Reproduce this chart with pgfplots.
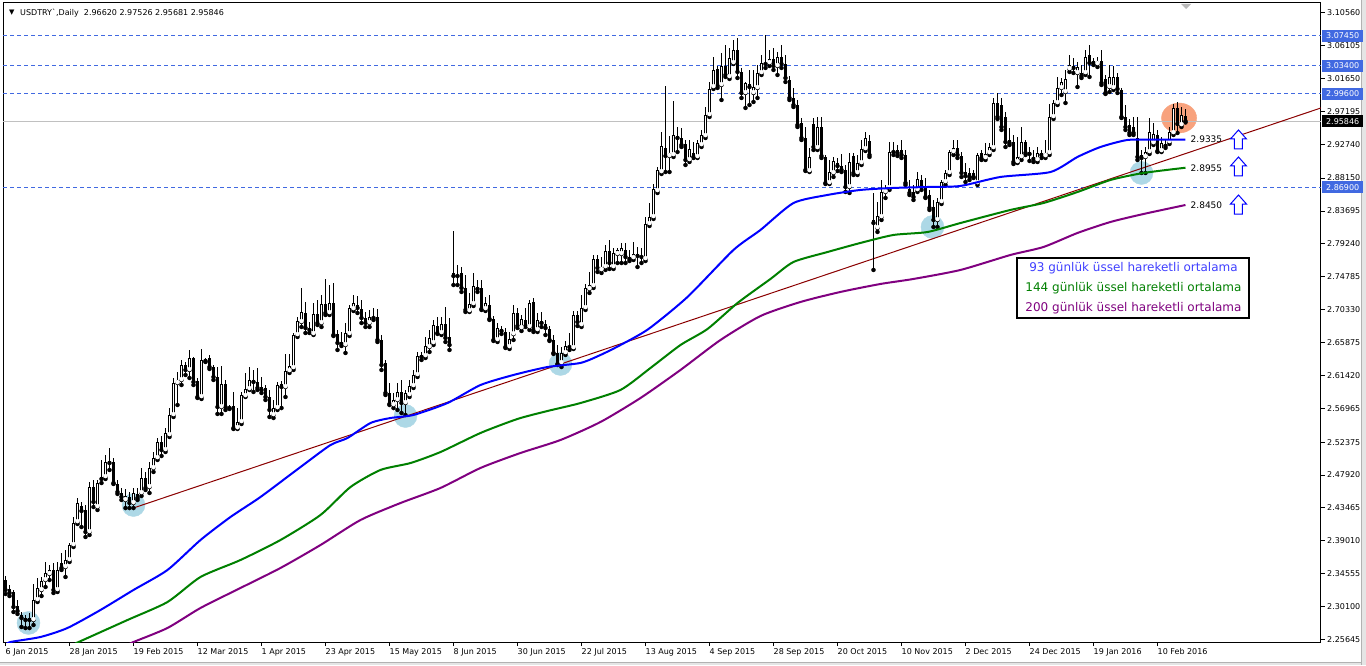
\documentclass[border=0pt]{standalone}
\usepackage{pgfplots}
\pgfplotsset{compat=1.18}
\usepackage{pgfplotstable}
\usepackage{fontspec}
\setmainfont{DejaVu Sans}
\definecolor{royal}{RGB}{65,105,225}
\definecolor{silverc}{RGB}{192,192,192}
\definecolor{trend}{RGB}{139,0,0}
\definecolor{emablue}{RGB}{0,0,255}
\definecolor{emagreen}{RGB}{0,128,0}
\definecolor{emapurple}{RGB}{128,0,128}
\definecolor{lblue}{RGB}{173,216,230}
\definecolor{salmonc}{RGB}{248,162,125}

\pgfplotstableread{
i o h l c
0 2.3369 2.3423 2.3180 2.3234
1 2.3247 2.3301 2.3152 2.3193
2 2.3207 2.3234 2.2936 2.3003
3 2.3016 2.3098 2.2909 2.2949
4 2.2895 2.2936 2.2732 2.2854
5 2.2827 2.2895 2.2718 2.2854
6 2.2854 2.2922 2.2718 2.2827
7 2.2827 2.3315 2.2759 2.3098
8 2.3098 2.3396 2.3071 2.3260
9 2.3234 2.3410 2.3152 2.3355
10 2.3369 2.3613 2.3274 2.3464
11 2.3451 2.3572 2.3369 2.3505
12 2.3505 2.3599 2.3193 2.3234
13 2.3234 2.3613 2.3207 2.3505
14 2.3599 2.3735 2.3505 2.3531
15 2.3545 2.3776 2.3410 2.3640
16 2.3640 2.3870 2.3613 2.3843
17 2.3843 2.4223 2.3816 2.4141
18 2.4155 2.4480 2.4128 2.4412
19 2.4371 2.4426 2.4087 2.4304
20 2.4318 2.4385 2.3952 2.4020
21 2.4020 2.4697 2.3979 2.4629
22 2.4629 2.4724 2.4358 2.4426
23 2.4358 2.4724 2.4318 2.4683
24 2.4765 2.4995 2.4683 2.4738
25 2.4765 2.5063 2.4738 2.4968
26 2.4954 2.5157 2.4860 2.4981
27 2.4968 2.5022 2.4670 2.4683
28 2.4670 2.4724 2.4535 2.4562
29 2.4548 2.4615 2.4453 2.4494
30 2.4453 2.4602 2.4344 2.4507
31 2.4494 2.4562 2.4344 2.4412
32 2.4412 2.4615 2.4344 2.4548
33 2.4535 2.4615 2.4453 2.4480
34 2.4548 2.4886 2.4507 2.4751
35 2.4751 2.4833 2.4589 2.4615
36 2.4629 2.4968 2.4548 2.4886
37 2.4886 2.5104 2.4833 2.5022
38 2.5022 2.5293 2.4995 2.5239
39 2.5239 2.5320 2.5049 2.5131
40 2.5131 2.5428 2.5104 2.5361
41 2.5334 2.5699 2.5307 2.5605
42 2.5605 2.6106 2.5578 2.6038
43 2.6038 2.6188 2.5740 2.6079
44 2.6079 2.6350 2.6011 2.6282
45 2.6282 2.6323 2.6147 2.6215
46 2.6215 2.6486 2.6106 2.6377
47 2.6377 2.6391 2.6011 2.6052
48 2.6066 2.6106 2.5835 2.5849
49 2.5849 2.6499 2.5822 2.6350
50 2.6364 2.6377 2.6323 2.6337
51 2.6377 2.6418 2.6228 2.6255
52 2.6255 2.6282 2.6079 2.6120
53 2.6120 2.6255 2.5619 2.5713
54 2.5713 2.6269 2.5619 2.6025
55 2.6025 2.6079 2.5673 2.5713
56 2.5713 2.5740 2.5686 2.5699
57 2.5727 2.5917 2.5415 2.5428
58 2.5428 2.5699 2.5415 2.5510
59 2.5510 2.5917 2.5483 2.5876
60 2.5862 2.6174 2.5849 2.5957
61 2.5957 2.6255 2.5944 2.6079
62 2.6079 2.6215 2.5917 2.6052
63 2.6052 2.6242 2.5944 2.5971
64 2.5984 2.6120 2.5903 2.5944
65 2.5971 2.6011 2.5808 2.5849
66 2.5849 2.5944 2.5578 2.5673
67 2.5605 2.5808 2.5564 2.5699
68 2.5699 2.6052 2.5673 2.6011
69 2.6025 2.6066 2.5699 2.5984
70 2.5984 2.6432 2.5849 2.6201
71 2.6201 2.6432 2.6174 2.6269
72 2.6242 2.6716 2.6215 2.6689
73 2.6689 2.6933 2.6662 2.6878
74 2.6865 2.7326 2.6797 2.7001
75 2.6987 2.7136 2.6716 2.6784
76 2.6784 2.6865 2.6716 2.6757
77 2.6703 2.7122 2.6689 2.6974
78 2.6974 2.7163 2.6824 2.6851
79 2.6851 2.7231 2.6797 2.7109
80 2.7109 2.7448 2.6960 2.6987
81 2.6987 2.7366 2.6960 2.7122
82 2.7122 2.7393 2.6675 2.6689
83 2.6703 2.6757 2.6486 2.6581
84 2.6594 2.6730 2.6540 2.6567
85 2.6553 2.6851 2.6445 2.6716
86 2.6703 2.7095 2.6675 2.7055
87 2.7041 2.7231 2.7014 2.7122
88 2.7095 2.7217 2.6987 2.7055
89 2.7041 2.7163 2.6851 2.6919
90 2.6919 2.7001 2.6797 2.6851
91 2.6851 2.7028 2.6797 2.6933
92 2.6919 2.7055 2.6892 2.6933
93 2.6933 2.7041 2.6594 2.6621
94 2.6621 2.6689 2.6215 2.6282
95 2.6309 2.6350 2.5876 2.5903
96 2.5903 2.6038 2.5740 2.5754
97 2.5740 2.5903 2.5699 2.5808
98 2.5808 2.6038 2.5673 2.5917
99 2.5917 2.6079 2.5632 2.5767
100 2.5767 2.5944 2.5605 2.5903
101 2.5876 2.6079 2.5849 2.5998
102 2.5998 2.6215 2.5971 2.6147
103 2.6147 2.6459 2.6120 2.6404
104 2.6391 2.6459 2.6350 2.6418
105 2.6404 2.6662 2.6377 2.6540
106 2.6526 2.6757 2.6459 2.6648
107 2.6581 2.6892 2.6553 2.6824
108 2.6811 2.6933 2.6703 2.6716
109 2.6716 2.6933 2.6689 2.6838
110 2.6838 2.7068 2.6594 2.6648
111 2.6662 2.6919 2.6486 2.6553
112 2.7529 2.8098 2.7366 2.7488
113 2.7488 2.7637 2.7366 2.7502
114 2.7529 2.7610 2.7272 2.7326
115 2.7326 2.7502 2.7001 2.7028
116 2.7014 2.7258 2.7001 2.7109
117 2.7109 2.7529 2.7082 2.7353
118 2.7339 2.7434 2.7272 2.7312
119 2.7326 2.7434 2.7028 2.7041
120 2.7041 2.7204 2.7014 2.7122
121 2.7095 2.7231 2.6892 2.6906
122 2.6906 2.6946 2.6608 2.6621
123 2.6621 2.6851 2.6594 2.6784
124 2.6770 2.6811 2.6703 2.6743
125 2.6730 2.6784 2.6513 2.6526
126 2.6526 2.6730 2.6499 2.6635
127 2.6700 2.7095 2.6621 2.6987
128 2.6987 2.7055 2.6784 2.6811
129 2.6784 2.6960 2.6743 2.6906
130 2.6892 2.7055 2.6797 2.6811
131 2.6797 2.7163 2.6757 2.7122
132 2.7136 2.7190 2.6730 2.6757
133 2.6757 2.6987 2.6730 2.6892
134 2.6851 2.7001 2.6797 2.6878
135 2.6838 2.6892 2.6689 2.6784
136 2.6770 2.6811 2.6608 2.6621
137 2.6621 2.6689 2.6432 2.6445
138 2.6445 2.6553 2.6282 2.6296
139 2.6309 2.6526 2.6255 2.6445
140 2.6445 2.6608 2.6418 2.6540
141 2.6526 2.6716 2.6486 2.6540
142 2.6513 2.7014 2.6499 2.6960
143 2.6960 2.7014 2.6811 2.6865
144 2.6824 2.7231 2.6797 2.7055
145 2.7055 2.7380 2.7028 2.7326
146 2.7312 2.7543 2.7258 2.7366
147 2.7353 2.7773 2.7326 2.7719
148 2.7719 2.7773 2.7543 2.7597
149 2.7570 2.7746 2.7529 2.7610
150 2.7610 2.7908 2.7570 2.7827
151 2.7827 2.7976 2.7583 2.7664
152 2.7610 2.7868 2.7583 2.7800
153 2.7787 2.7868 2.7664 2.7841
154 2.7787 2.7935 2.7664 2.7868
155 2.7841 2.7935 2.7664 2.7746
156 2.7746 2.7841 2.7691 2.7719
157 2.7732 2.7949 2.7705 2.7787
158 2.7787 2.7881 2.7610 2.7759
159 2.7759 2.7868 2.7664 2.7746
160 2.7719 2.8288 2.7691 2.8193
161 2.8193 2.8477 2.8166 2.8288
162 2.8288 2.8735 2.8261 2.8667
163 2.8640 2.8965 2.8613 2.8925
164 2.8897 2.9439 2.8870 2.9250
165 2.9223 3.0063 2.8897 2.9114
166 2.9114 2.9385 2.8897 2.9155
167 2.9128 2.9859 2.9101 2.9399
168 2.9385 2.9507 2.9168 2.9358
169 2.9358 2.9494 2.9236 2.9263
170 2.9277 2.9331 2.8992 2.9060
171 2.9060 2.9331 2.9033 2.9209
172 2.9155 2.9304 2.9087 2.9101
173 2.9101 2.9331 2.9087 2.9290
174 2.9263 2.9467 2.9236 2.9399
175 2.9385 2.9778 2.9358 2.9670
176 2.9670 3.0117 2.9643 3.0022
177 3.0049 3.0456 3.0022 3.0280
178 3.0293 3.0334 3.0036 3.0063
179 3.0076 3.0510 2.9873 3.0334
180 3.0334 3.0618 3.0185 3.0212
181 3.0185 3.0578 3.0158 3.0442
182 3.0374 3.0686 3.0361 3.0551
183 3.0551 3.0713 3.0171 3.0253
184 3.0253 3.0307 2.9900 2.9968
185 2.9968 3.0117 2.9765 3.0104
186 3.0090 3.0280 2.9805 3.0049
187 2.9968 3.0280 2.9846 3.0049
188 3.0036 3.0347 2.9900 3.0239
189 3.0239 3.0483 3.0212 3.0374
190 3.0361 3.0754 3.0307 3.0374
191 3.0374 3.0551 3.0334 3.0429
192 3.0429 3.0578 3.0280 3.0334
193 3.0334 3.0523 3.0212 3.0456
194 3.0456 3.0618 3.0307 3.0361
195 3.0361 3.0483 3.0117 3.0171
196 3.0144 3.0198 2.9873 2.9900
197 2.9900 3.0036 2.9778 2.9805
198 2.9805 2.9873 2.9507 2.9534
199 2.9561 2.9629 2.9331 2.9358
200 2.9358 2.9507 2.8911 2.8925
201 2.8911 2.9223 2.8897 2.9101
202 2.9548 2.9629 2.9196 2.9236
203 2.9223 2.9643 2.9196 2.9507
204 2.9507 2.9643 2.9087 2.9114
205 2.9101 2.9128 2.8735 2.8748
206 2.8748 2.9060 2.8735 2.8897
207 2.8884 2.9101 2.8830 2.9047
208 2.9019 2.9087 2.8911 2.8979
209 2.8979 2.9141 2.8897 2.8925
210 2.8925 2.8992 2.8627 2.8694
211 2.8694 2.9155 2.8613 2.9033
212 2.9114 2.9155 2.8857 2.8884
213 2.8884 2.9128 2.8857 2.9019
214 2.9019 2.9331 2.8992 2.9209
215 2.9209 2.9439 2.9182 2.9358
216 2.9318 2.9399 2.9101 2.9128
217 2.8247 2.8613 2.7570 2.8206
218 2.8139 2.8491 2.8085 2.8301
219 2.8288 2.8789 2.8247 2.8627
220 2.8627 2.8721 2.8545 2.8681
221 2.8681 2.9304 2.8654 2.9168
222 2.9182 2.9304 2.9128 2.9168
223 2.9196 2.9263 2.9114 2.9155
224 2.9196 2.9331 2.9087 2.9128
225 2.9128 2.9196 2.8721 2.8748
226 2.8667 2.8789 2.8586 2.8613
227 2.8627 2.8721 2.8518 2.8559
228 2.8654 2.8898 2.8627 2.8803
229 2.8789 2.8857 2.8654 2.8694
230 2.8708 2.8816 2.8545 2.8559
231 2.8586 2.8654 2.8383 2.8410
232 2.8423 2.8518 2.8152 2.8247
233 2.8247 2.8545 2.8152 2.8491
234 2.8491 2.8789 2.8464 2.8762
235 2.8762 2.8925 2.8721 2.8884
236 2.8884 2.9196 2.8857 2.9168
237 2.9168 2.9331 2.9128 2.9223
238 2.9223 2.9331 2.9087 2.9128
239 2.9114 2.9168 2.8830 2.8884
240 2.8897 2.9019 2.8762 2.8843
241 2.8884 2.8952 2.8789 2.8830
242 2.8884 2.8925 2.8816 2.8830
243 2.8748 2.9155 2.8721 2.9128
244 2.9155 2.9196 2.9060 2.9087
245 2.9087 2.9290 2.9060 2.9141
246 2.9155 2.9290 2.9128 2.9236
247 2.9223 2.9900 2.9196 2.9832
248 2.9832 2.9968 2.9616 2.9643
249 2.9805 2.9900 2.9467 2.9507
250 2.9643 2.9710 2.9236 2.9304
251 2.9331 2.9494 2.9263 2.9290
252 2.9304 2.9399 2.9006 2.9033
253 2.9033 2.9372 2.9019 2.9101
254 2.9101 2.9507 2.9060 2.9304
255 2.9304 2.9331 2.9128 2.9155
256 2.9168 2.9236 2.9047 2.9141
257 2.9101 2.9196 2.9033 2.9074
258 2.9060 2.9236 2.9033 2.9155
259 2.9128 2.9196 2.9087 2.9155
260 2.9114 2.9331 2.9087 2.9155
261 2.9155 2.9819 2.9128 2.9643
262 2.9643 2.9873 2.9616 2.9832
263 2.9832 3.0185 2.9805 3.0036
264 3.0036 3.0171 2.9941 3.0117
265 2.9981 3.0280 2.9832 3.0158
266 3.0293 3.0483 3.0253 3.0347
267 3.0334 3.0442 3.0239 3.0307
268 3.0239 3.0388 3.0049 3.0320
269 3.0239 3.0347 3.0171 3.0198
270 3.0239 3.0551 3.0212 3.0456
271 3.0483 3.0618 3.0185 3.0374
272 3.0374 3.0442 3.0347 3.0401
273 3.0361 3.0456 3.0320 3.0401
274 3.0401 3.0551 3.0076 3.0104
275 3.0158 3.0212 2.9954 2.9968
276 3.0049 3.0347 2.9981 3.0185
277 3.0036 3.0334 3.0009 3.0185
278 3.0185 3.0239 2.9968 3.0022
279 3.0009 3.0036 2.9629 2.9643
280 2.9643 2.9805 2.9467 2.9507
281 2.9534 2.9616 2.9399 2.9426
282 2.9507 2.9643 2.9399 2.9426
283 2.9358 2.9643 2.9060 2.9101
284 2.9128 2.9196 2.8884 2.9087
285 2.9101 2.9236 2.8884 2.9168
286 2.9168 2.9629 2.9141 2.9439
287 2.9290 2.9561 2.9263 2.9412
288 2.9399 2.9467 2.9168 2.9182
289 2.9182 2.9372 2.9168 2.9290
290 2.9250 2.9331 2.9223 2.9277
291 2.9304 2.9507 2.9277 2.9439
292 2.9426 2.9819 2.9399 2.9764
293 2.9764 2.9846 2.9426 2.9548
294 2.9534 2.9778 2.9507 2.9670
295 2.9662 2.9753 2.9568 2.9585
}\candles

\begin{document}
\begin{tikzpicture}[x=1pt,y=1pt]
\path[use as bounding box] (0,0) rectangle (1366,665);
\fill[white] (0,0) rectangle (1366,665);
\fill[gray!20] (1362,0) rectangle (1366,665);
\fill[gray!20] (0,0) rectangle (1366,2.5);
\draw[gray!60, line width=0.8pt] (1361.5,0) -- (1361.5,665);
\draw[gray!60, line width=0.8pt] (0,2.5) -- (1361.5,2.5);
\begin{axis}[
  at={(3pt,23pt)}, anchor=south west,
  scale only axis, width=1318pt, height=639pt,
  xmin=-0.625, xmax=328.875, ymin=2.2529, ymax=3.1187,
  enlargelimits=false,
  clip mode=individual,
  axis line style={black, line width=1pt},
  tick align=outside, major tick length=4pt,
  tick style={black, line width=0.8pt},
  xtick pos=left, ytick pos=right, yticklabel pos=right,
  scaled y ticks=false,
  xtick={0,16,...,288},
  xticklabels={6 Jan 2015,28 Jan 2015,19 Feb 2015,12 Mar 2015,1 Apr 2015,23 Apr 2015,15 May 2015,8 Jun 2015,30 Jun 2015,22 Jul 2015,13 Aug 2015,4 Sep 2015,28 Sep 2015,20 Oct 2015,10 Nov 2015,2 Dec 2015,24 Dec 2015,19 Jan 2016,10 Feb 2016},
  xticklabel style={font=\fontsize{8}{9}\selectfont, anchor=north west, inner sep=0pt, yshift=-2pt},
  ytick={2.25645,2.30100,2.34555,2.39010,2.43465,2.47920,2.52375,2.56965,2.61420,2.65875,2.70330,2.74785,2.79240,2.83695,2.88150,2.92740,2.97195,3.01650,3.06105,3.10560},
  yticklabels={2.25645,2.30100,2.34555,2.39010,2.43465,2.47920,2.52375,2.56965,2.61420,2.65875,2.70330,2.74785,2.79240,2.83695,2.88150,2.92740,2.97195,3.01650,3.06105,3.10560},
  yticklabel style={font=\fontsize{8}{9}\selectfont, anchor=west, inner sep=0pt, xshift=2pt},
]
% background circles
\addplot[only marks, mark=*, color=lblue, mark size=11.5pt, mark options={draw=lblue, fill=lblue}] coordinates {(5.75,2.2787) (32,2.4385) (100,2.5591) (138.75,2.6296) (231.75,2.8152) (284,2.8884)};
\addplot[only marks, mark=*, color=salmonc, mark size=15pt, mark options={draw=salmonc, fill=salmonc, xscale=1.17}] coordinates {(293.4,2.9629)};
% horizontal lines
\addplot[color=royal, mark=none, line width=1.2pt, dash pattern=on 4pt off 3pt] coordinates {(-0.625,3.07466) (328.875,3.07466)};
\addplot[color=royal, mark=none, line width=1.2pt, dash pattern=on 4pt off 3pt] coordinates {(-0.625,3.03416) (328.875,3.03416)};
\addplot[color=royal, mark=none, line width=1.2pt, dash pattern=on 4pt off 3pt] coordinates {(-0.625,2.99616) (328.875,2.99616)};
\addplot[color=royal, mark=none, line width=1.2pt, dash pattern=on 4pt off 3pt] coordinates {(-0.625,2.86916) (328.875,2.86916)};
\addplot[color=silverc, mark=none, line width=1pt] coordinates {(-0.625,2.95846) (328.875,2.95846)};
% trendline
\addplot[color=trend, mark=none, line width=1pt] coordinates {(32,2.4345) (328.875,2.9765)};
% candles: wicks
\addplot[black, only marks, mark=none, error bars/.cd, y dir=plus, y explicit, error mark=none, error bar style={draw=black, line width=1pt}]
  table[x=i, y=l, y error expr=\thisrow{h}-\thisrow{l}] {\candles};
% down bodies
\addplot[black, only marks, mark=none, restrict expr to domain={\thisrow{c}-\thisrow{o}}{-1:-0.000001}, error bars/.cd, y dir=plus, y explicit, error mark=none, error bar style={draw=black, line width=3pt}]
  table[x=i, y=c, y error expr={max(\thisrow{o}-\thisrow{c},0.0014)}] {\candles};
% up bodies outline
\addplot[black, only marks, mark=none, restrict expr to domain={\thisrow{c}-\thisrow{o}}{0:1}, error bars/.cd, y dir=plus, y explicit, error mark=none, error bar style={draw=black, line width=3pt}]
  table[x=i, y=o, y error expr={max(\thisrow{c}-\thisrow{o},0.0014)}] {\candles};
% up bodies interior
\addplot[white, only marks, mark=none, restrict expr to domain={\thisrow{c}-\thisrow{o}}{0.0028:1}, error bars/.cd, y dir=plus, y explicit, error mark=none, error bar style={draw=white, line width=1pt}]
  table[x=i, y expr=\thisrow{o}+0.0012, y error expr={\thisrow{c}-\thisrow{o}-0.0024}] {\candles};
% EMAs
\addplot[color=emapurple, mark=none, line width=2pt, smooth, tension=0.4] coordinates {(31,2.2500) (32,2.2529) (40.5,2.2719) (48.75,2.2990) (58.75,2.3261) (68.75,2.3532) (78.75,2.3843) (88.75,2.4182) (98.75,2.4412) (108.75,2.4616) (118.75,2.4887) (128.75,2.5090) (138.75,2.5266) (148.75,2.5510) (158.75,2.5835) (168.75,2.6215) (178.75,2.6621) (188.75,2.6946) (198.75,2.7136) (208.75,2.7272) (218.75,2.7380) (227,2.7448) (238.75,2.7570) (251.25,2.7773) (259.5,2.7881) (268,2.8071) (276.25,2.8220) (284.5,2.8328) (295,2.8450)};
\addplot[color=emagreen, mark=none, line width=2pt, smooth, tension=0.4] coordinates {(17.5,2.2510) (30.5,2.2827) (40.5,2.3071) (48.75,2.3410) (58.75,2.3640) (68.75,2.3911) (78.75,2.4250) (86.25,2.4629) (93.75,2.4860) (101.25,2.4954) (108.75,2.5103) (118.75,2.5361) (128,2.5551) (135.5,2.5659) (143.75,2.5767) (153.75,2.5944) (161.25,2.6242) (168.75,2.6553) (175.5,2.6770) (183,2.7122) (191.25,2.7448) (197,2.7678) (205.5,2.7813) (213.75,2.7936) (222,2.8044) (230.5,2.8084) (238.75,2.8206) (251.25,2.8383) (259.5,2.8477) (268,2.8626) (276.25,2.8789) (284.5,2.8884) (295,2.8955)};
\addplot[color=emablue, mark=none, line width=2pt, smooth, tension=0.4] coordinates {(0,2.2490) (1.25,2.2529) (8.75,2.2597) (15.5,2.2719) (23.75,2.2963) (32,2.3234) (40.5,2.3505) (48.75,2.3911) (56.25,2.4223) (63.75,2.4494) (73.75,2.4900) (81.25,2.5198) (85.5,2.5293) (91.25,2.5496) (96.25,2.5564) (102,2.5605) (110.5,2.5767) (118.75,2.6011) (127,2.6147) (135.5,2.6255) (143.75,2.6310) (148.75,2.6418) (153.75,2.6553) (160.75,2.6770) (170.5,2.7204) (182,2.7841) (188.75,2.8112) (197,2.8477) (205.5,2.8586) (213.75,2.8654) (222,2.8681) (230.5,2.8694) (238.75,2.8708) (248.75,2.8830) (261.25,2.8897) (268,2.9101) (273.75,2.9236) (280.5,2.9331) (288,2.9335) (295,2.9335)};
% annotations
\coordinate (A1) at (axis cs:308.25,2.9209);
\coordinate (A2) at (axis cs:308.25,2.8843);
\coordinate (A3) at (axis cs:308.25,2.8328);
\node[anchor=west, inner sep=0pt, font=\fontsize{9}{10}\selectfont] at (axis cs:296.25,2.9335) {2.9335};
\node[anchor=west, inner sep=0pt, font=\fontsize{9}{10}\selectfont] at (axis cs:296.25,2.8955) {2.8955};
\node[anchor=west, inner sep=0pt, font=\fontsize{9}{10}\selectfont] at (axis cs:296.25,2.8450) {2.8450};
\node[draw=black, line width=2pt, fill=white, minimum width=232pt, minimum height=60pt, inner sep=0pt, align=center, font=\fontsize{12}{20}\selectfont] at (axis cs:282,2.7326) {\textcolor{emablue!75!white}{93 günlük üssel hareketli ortalama}\\\textcolor{emagreen}{144 günlük üssel hareketli ortalama}\\\textcolor{emapurple}{200 günlük üssel hareketli ortalama}};
\node[fill=royal, text=white, anchor=west, inner sep=0pt, minimum width=41pt, minimum height=12pt, font=\fontsize{8}{9}\selectfont, xshift=1pt] at (axis cs:328.875,3.0745) {3.07450};
\node[fill=royal, text=white, anchor=west, inner sep=0pt, minimum width=41pt, minimum height=12pt, font=\fontsize{8}{9}\selectfont, xshift=1pt] at (axis cs:328.875,3.0340) {3.03400};
\node[fill=royal, text=white, anchor=west, inner sep=0pt, minimum width=41pt, minimum height=12pt, font=\fontsize{8}{9}\selectfont, xshift=1pt] at (axis cs:328.875,2.9960) {2.99600};
\node[fill=royal, text=white, anchor=west, inner sep=0pt, minimum width=41pt, minimum height=12pt, font=\fontsize{8}{9}\selectfont, xshift=1pt] at (axis cs:328.875,2.8690) {2.86900};
\node[fill=black, text=white, anchor=west, inner sep=0pt, minimum width=41pt, minimum height=12pt, font=\fontsize{8}{9}\selectfont, xshift=1pt] at (axis cs:328.875,2.95846) {2.95846};
\end{axis}
\foreach \a in {A1,A2,A3}{
  \draw[blue, line width=1pt, fill=white, shift={(\a)}] (-4,0) -- (4,0) -- (4,10) -- (8,10) -- (0,19) -- (-8,10) -- (-4,10) -- cycle;
}
\fill[gray!55] (1181,661) -- (1191,661) -- (1186,656) -- cycle;
\node[anchor=west, inner sep=0pt, font=\fontsize{7}{8}\selectfont] at (9,652) {▼};
\node[anchor=west, inner sep=0pt, font=\fontsize{8}{9}\selectfont] at (20,652) {USDTRY\textasciigrave,Daily\ \ 2.96620 2.97526 2.95681 2.95846};
\end{tikzpicture}
\end{document}
